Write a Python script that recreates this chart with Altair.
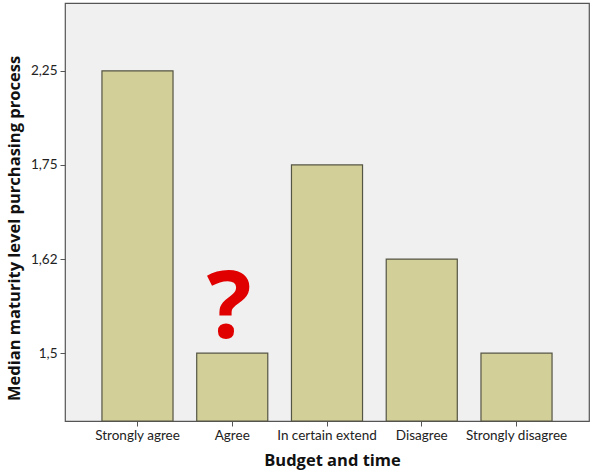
import altair as alt
import pandas as pd

# Median maturity level per budget/time answer category
categories = ["Strongly agree", "Agree", "In certain extend", "Disagree", "Strongly disagree"]
medians = ["2,25", "1,5", "1,75", "1,62", "1,5"]
levels = ["2,25", "1,75", "1,62", "1,5"]  # top to bottom

df = pd.DataFrame({"category": categories, "median": medians})

LABEL_FONT = "Lato"
TITLE_FONT = "Open Sans"
W, H = 524, 418

x_enc = alt.X(
    "category:N",
    sort=categories,
    scale=alt.Scale(paddingInner=0.25, paddingOuter=0.39),
    axis=alt.Axis(
        title="Budget and time",
        labelAngle=0,
        labelFont=LABEL_FONT,
        labelFontSize=13.5,
        labelColor="#222222",
        labelPadding=2,
        tickSize=5,
        tickColor="#555555",
        domain=False,
        titleFont=TITLE_FONT,
        titleFontSize=16.5,
        titleFontWeight="bold",
        titleColor="#111111",
        titlePadding=11,
        titleX=267,
    ),
)
y_enc = alt.Y(
    "median:O",
    sort=levels,
    scale=alt.Scale(type="point", domain=levels, padding=0.72),
    axis=alt.Axis(
        title="Median maturity level purchasing process",
        labelFont=LABEL_FONT,
        labelFontSize=13.5,
        labelColor="#222222",
        labelPadding=3,
        tickSize=5,
        tickColor="#555555",
        domain=False,
        grid=False,
        titleFont=TITLE_FONT,
        titleFontSize=16.5,
        titleFontWeight="bold",
        titleColor="#111111",
        titlePadding=8,
        titleY=225,
    ),
)

bars = alt.Chart(df).mark_bar(
    color="#d3cf98", stroke="#555544", strokeWidth=1.2
).encode(x=x_enc, y=y_enc, y2=alt.value(H))

# Big red question mark above the "Agree" bar
note = alt.Chart(pd.DataFrame({"category": ["Agree"], "median": ["1,5"]})).mark_text(
    text="?", font="Open Sans", fontSize=94, fontWeight="bold", color="#e00000",
    baseline="alphabetic", dy=-15, dx=-3
).encode(x=alt.X("category:N", sort=categories), y=alt.Y("median:O", sort=levels))

chart = (
    alt.layer(bars, note)
    .properties(width=W, height=H, autosize=alt.AutoSizeParams(type="none"),
                padding={"left": 65, "top": 3, "right": 3, "bottom": 52})
    .configure(font=LABEL_FONT, background="white")
    .configure_view(fill="#f0f0f0", stroke="#555555", strokeWidth=1.2)
)

chart.save("out.html", embed_options={"renderer": "svg", "actions": False})
